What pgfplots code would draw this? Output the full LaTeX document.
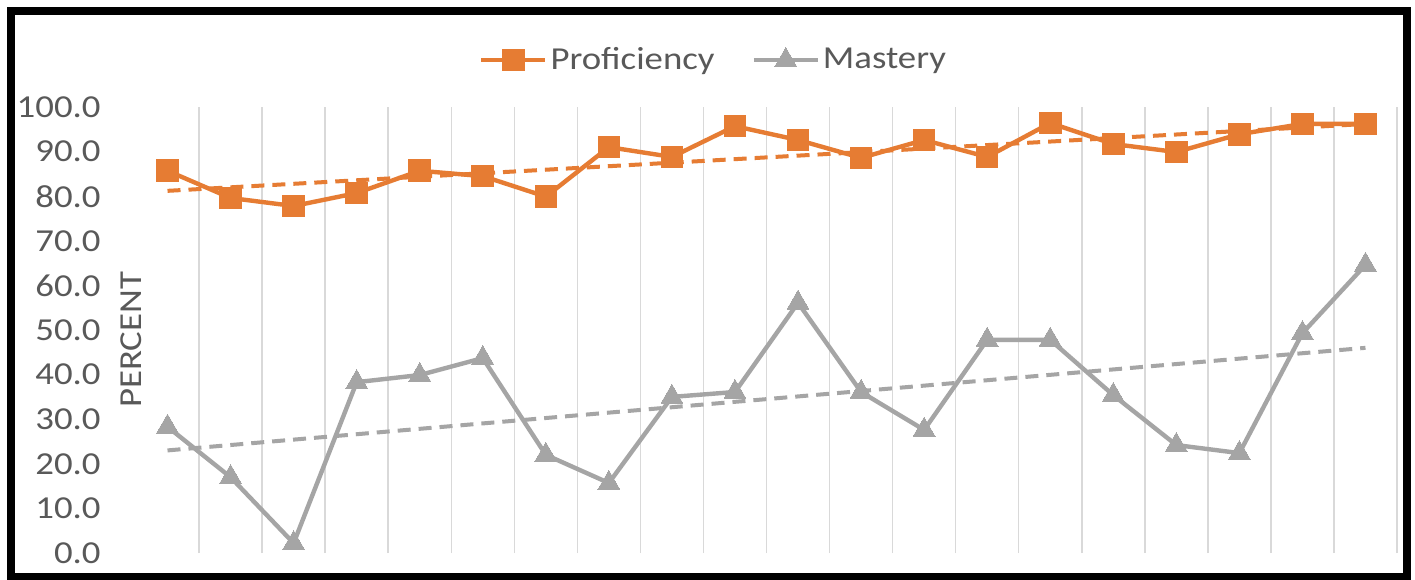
\documentclass[border=0pt]{standalone}
\usepackage{fontspec}
\setmainfont{Carlito}[FakeStretch=1.15]
\usepackage{pgfplots}
\pgfplotsset{compat=1.18}
\definecolor{orng}{HTML}{E67C33}
\definecolor{gry}{HTML}{A5A5A5}
\definecolor{gridc}{HTML}{D9D9D9}
\definecolor{txt}{HTML}{595959}
\newcommand{\chfont}{\fontsize{16}{19}\selectfont}
\begin{document}
\begin{tikzpicture}
\useasboundingbox (0,0) rectangle (707.5pt,289.5pt);
\fill[white] (0,0) rectangle (707.5pt,289.5pt);
\begin{axis}[
  at={(68pt,13pt)}, anchor=south west,
  scale only axis, width=630.5pt, height=223pt,
  xmin=-0.5, xmax=19.5, ymin=0, ymax=100,
  axis line style={draw=none},
  xtick={0.5,1.5,...,19.5}, xticklabels={},
  xmajorgrids, major x grid style={gridc, line width=0.75pt},
  x tick style={draw=none}, y tick style={draw=none},
  ytick={0,10,...,100},
  /pgf/number format/fixed, /pgf/number format/fixed zerofill,
  /pgf/number format/precision=1, /pgf/number format/assume math mode=true,
  yticklabel style={font=\chfont, text=txt, anchor=east, inner sep=0pt, xshift=-17.5pt},
  ylabel={PERCENT},
  ylabel style={at={(axis description cs:-0.004,0.478)}, anchor=center, font=\chfont, text=txt},
  legend columns=2,
  legend style={at={(axis description cs:0.4584,1.105)}, anchor=center, draw=none, fill=none,
    font=\chfont, text=txt, nodes={inner sep=1.5pt},
    /tikz/every even column/.append style={column sep=17pt}},
  legend image code/.code={\draw[mark repeat=2,mark phase=2] plot coordinates {(0pt,0pt)(16pt,0pt)(32pt,0pt)};},
  clip=false,
]
% trendlines (linear fits, endpoints)
\addplot[orng, line width=2pt, dash pattern=on 6.5pt off 4pt, forget plot] coordinates {(0,81.2) (19,96.2)};
\addplot[gry, line width=2pt, dash pattern=on 6.5pt off 4pt, forget plot] coordinates {(0,23.0) (19,46.0)};
\addplot[orng, line width=2.2pt, mark=square*, mark size=5.4pt, mark options={solid, fill=orng, draw=orng, line width=0pt}] coordinates {
(0,85.7) (1,79.6) (2,77.8) (3,80.7) (4,85.7) (5,84.5) (6,79.9) (7,91.0) (8,88.8) (9,95.7)
(10,92.6) (11,88.6) (12,92.6) (13,88.8) (14,96.4) (15,91.7) (16,89.9) (17,93.9) (18,96.2) (19,96.2)};
\addlegendentry{Proficiency}
\addplot[gry, line width=2.2pt, mark=triangle*, mark size=6.3pt, mark options={solid, fill=gry, draw=gry, line width=0pt}] coordinates {
(0,28.3) (1,17.0) (2,2.2) (3,38.3) (4,39.9) (5,43.7) (6,22.0) (7,15.7) (8,35.0) (9,36.1)
(10,56.1) (11,36.1) (12,27.6) (13,47.8) (14,47.8) (15,35.4) (16,24.2) (17,22.4) (18,49.3) (19,64.6)};
\addlegendentry{Mastery}
\end{axis}
\draw[black, line width=4pt] (5.5pt,1pt) rectangle (703.5pt,284pt);
\end{tikzpicture}
\end{document}
